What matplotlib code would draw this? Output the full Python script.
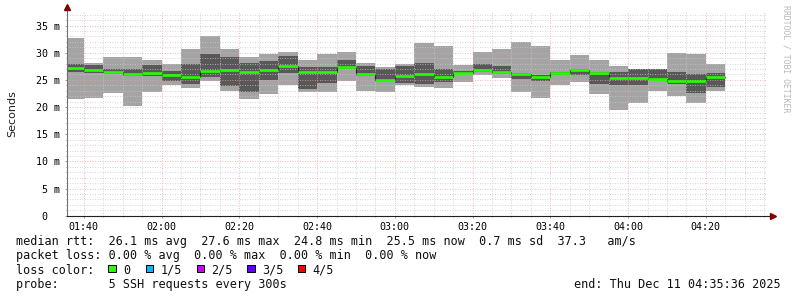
import numpy as np
import pandas as pd
import matplotlib
matplotlib.use("Agg")
import matplotlib.pyplot as plt
import matplotlib.dates as mdates
from matplotlib.ticker import MultipleLocator, FuncFormatter

# smokeping: 5 pings per 5 minute step, values in ms, bin labelled by its end
ends = pd.date_range("2025-12-11 01:40", "2025-12-11 04:25", freq="5min")
ping_min = [21.5, 21.7, 22.6, 20.2, 22.8, 24.1, 23.5, 24.8, 23.0, 21.5, 22.4, 24.05,
            22.8, 22.8, 24.8, 23.0, 22.8, 24.0, 23.75, 23.5, 24.6, 25.9, 25.35, 22.8,
            21.65, 24.1, 24.65, 22.4, 19.5, 20.8, 22.95, 22.0, 20.8, 23.0]
ping_lo = [26.5, 26.3, 26.1, 25.7, 25.7, 24.8, 24.3, 25.6, 23.9, 22.8, 25.0, 26.3,
           23.3, 24.5, 27.05, 25.7, 24.9, 24.5, 24.2, 24.65, 26.1, 26.5, 26.05, 25.2,
           24.85, 25.9, 25.9, 24.2, 24.1, 24.05, 24.9, 24.2, 22.6, 23.75]
median = [27.2, 26.8, 26.4, 26.0, 26.3, 25.9, 25.5, 26.6, 26.8, 26.5, 26.8, 27.6,
          26.5, 26.5, 27.35, 26.0, 25.0, 25.8, 26.1, 25.6, 26.3, 26.8, 26.5, 26.0,
          25.6, 26.2, 26.75, 26.3, 25.3, 25.35, 25.2, 24.8, 24.8, 25.5]
ping_hi = [27.9, 27.7, 27.0, 27.0, 27.7, 26.6, 27.9, 29.8, 29.2, 28.2, 28.5, 29.4,
           27.4, 27.35, 28.65, 27.5, 27.0, 27.6, 28.15, 27.0, 26.7, 28.0, 27.55, 26.3,
           25.95, 26.5, 27.0, 26.5, 26.5, 27.0, 27.0, 26.5, 26.0, 26.3]
ping_max = [32.8, 28.2, 29.2, 29.2, 28.7, 28.0, 30.7, 33.1, 30.7, 29.3, 29.8, 30.1,
            28.65, 29.75, 30.1, 28.15, 27.4, 28.0, 31.85, 31.2, 27.8, 30.1, 30.7, 31.95,
            31.2, 28.65, 29.55, 28.65, 27.55, 27.1, 27.0, 30.0, 29.75, 28.0]

loss_labels = ["0", "1/5", "2/5", "3/5", "4/5"]
loss_colors = ["#26ff00", "#00b8ff", "#cc00ff", "#5e00ff", "#ff0000"]

stats_line = "median rtt:  26.1 ms avg  27.6 ms max  24.8 ms min  25.5 ms now  0.7 ms sd  37.3   am/s"
loss_line = "packet loss: 0.00 % avg  0.00 % max  0.00 % min  0.00 % now"
probe_line = "probe:       5 SSH requests every 300s"
end_line = "end: Thu Dec 11 04:35:36 2025"

W, H = 797, 297
def fx(px):
    return px / W
def fy(py):
    return 1 - py / H

mono = "DejaVu Sans Mono"
fig = plt.figure(figsize=(W / 100, H / 100), dpi=100)
fig.patch.set_facecolor("white")

x_left, x_right = 66.7, 766.5
y_bot, y_top = 215.7, 11.5
ax = fig.add_axes([fx(x_left), fy(y_bot), (x_right - x_left) / W, (y_bot - y_top) / H])

t0 = pd.Timestamp("2025-12-11 01:35:36")
t1 = pd.Timestamp("2025-12-11 04:35:36")
starts = mdates.date2num(ends - pd.Timedelta(minutes=5))
w = 5 / 1440.0

lo = np.array(ping_min)
hi = np.array(ping_max)
ax.bar(starts, hi - lo, width=w, bottom=lo, align="edge", color="#a4a4a4",
       lw=0, antialiased=False, zorder=1)
lo2 = np.array(ping_lo)
hi2 = np.array(ping_hi)
ax.bar(starts, hi2 - lo2, width=w, bottom=lo2, align="edge", color="#585858",
       lw=0, antialiased=False, zorder=1.1)

med = np.array(median)
ax.step(np.append(starts, starts[-1] + w), np.append(med, med[-1]), where="post",
        color="#202020", lw=0.8, zorder=3)
ax.hlines(med, starts, starts + w, color=loss_colors[0], lw=1.9, zorder=3.2)

ax.set_xlim(mdates.date2num(t0), mdates.date2num(t1))
ax.set_ylim(0, 37.6)

ax.yaxis.set_major_locator(MultipleLocator(5))
ax.yaxis.set_minor_locator(MultipleLocator(1))
ax.yaxis.set_major_formatter(FuncFormatter(lambda v, p: "%d m" % v if v > 0 else "0  "))
ax.xaxis.set_major_locator(mdates.MinuteLocator(byminute=[0, 20, 40]))
ax.xaxis.set_minor_locator(mdates.MinuteLocator(byminute=range(0, 60, 5)))
ax.xaxis.set_major_formatter(mdates.DateFormatter("%H:%M"))

ax.set_axisbelow(False)
ax.grid(which="minor", color="#c8c8c8", ls=(0, (1, 2)), lw=0.6)
ax.grid(which="major", color="#eda0a0", ls=(0, (1, 2)), lw=0.6)

ax.tick_params(which="both", direction="out", color="#a0a0a0", width=0.72)
ax.tick_params(which="major", length=1.5, pad=3.4, labelsize=7.2)
ax.tick_params(which="minor", length=1.0)
ax.tick_params(axis="x", which="major", pad=3.3)
for lab in ax.get_xticklabels() + ax.get_yticklabels():
    lab.set_family(mono)

for s in ax.spines.values():
    s.set_visible(False)
# axis lines with the rrdtool arrows
ax.plot([0, 0], [0, 1.01], transform=ax.transAxes, clip_on=False, color="#707070", lw=0.8, zorder=5)
ax.plot([0, 1.008], [0, 0], transform=ax.transAxes, clip_on=False, color="#202020", lw=0.8, zorder=5)
ax.plot([0], [1.02], marker="^", ms=4, color="#7f0000", transform=ax.transAxes, clip_on=False, zorder=6)
ax.plot([1.01], [0], marker=">", ms=4, color="#7f0000", transform=ax.transAxes, clip_on=False, zorder=6)

fig.text(fx(12), fy(114), "Seconds", rotation=90, ha="center", va="center",
         fontsize=8, family="DejaVu Sans", color="#202020")
fig.text(fx(786), fy(59), "RRDTOOL / TOBI OETIKER", rotation=270, ha="center", va="center",
         fontsize=5.9, family=mono, color="#b8b8b8")

fs = 8.45
fig.text(fx(16), fy(245), stats_line, family=mono, fontsize=fs, va="baseline", color="#101010")
fig.text(fx(16), fy(259.3), loss_line, family=mono, fontsize=fs, va="baseline", color="#101010")
fig.text(fx(16), fy(273.5), "loss color:", family=mono, fontsize=fs, va="baseline", color="#101010")
fig.text(fx(16), fy(287.7), probe_line, family=mono, fontsize=fs, va="baseline", color="#101010")
fig.text(fx(781), fy(287.7), end_line, family=mono, fontsize=fs, va="baseline", ha="right", color="#101010")

box_x = [108.3, 145.7, 196.7, 247.3, 297.7]
for bx, lab, col in zip(box_x, loss_labels, loss_colors):
    fig.patches.append(plt.Rectangle((fx(bx), fy(272.3)), 7.3 / W, 7.3 / H, transform=fig.transFigure,
                                     facecolor=col, edgecolor="black", lw=0.72))
    fig.text(fx(bx + 14.5), fy(273.5), lab, family=mono, fontsize=fs, va="baseline", color="#101010")

fig.savefig("out.png", dpi=100)
